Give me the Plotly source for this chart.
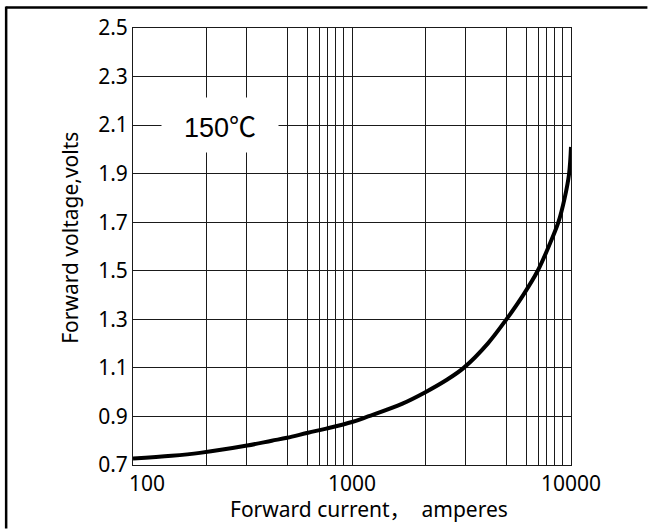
import plotly.graph_objects as go

# Curve
current = [100, 150, 202, 332, 430, 505, 630, 763, 1000, 1184, 1700, 2163, 2700,
           3236, 4166, 5070, 6048, 7047, 7910, 8759, 9359, 9802, 10000]
voltage = [0.727, 0.738, 0.750, 0.780, 0.800, 0.812, 0.833, 0.850, 0.877, 0.900,
           0.953, 1.000, 1.050, 1.100, 1.200, 1.300, 1.400, 1.500, 1.600, 1.700,
           1.800, 1.900, 2.010]

# Vertical grid lines as drawn in the picture (decade lines + in-between lines)
x_grid = [100, 216, 330, 507, 625, 707, 772, 843, 919,
          1000, 2160, 3300, 5070, 6250, 7070, 7720, 8430, 9190, 10000]
x_labels = {1000: "1000", 10000: "10000"}
first_x_label = "100"   # drawn as annotation, nudged right as in the picture
y_ticks = [0.7, 0.9, 1.1, 1.3, 1.5, 1.7, 1.9, 2.1, 2.3, 2.5]
y_labels = ["0.7", "0.9", "1.1", "1.3", "1.5", "1.7", "1.9", "2.1", "2.3", "2.5"]

W, H = 648, 529
L, R, T, B = 133, 76.5, 28, 63.5
pw, ph = W - L - R, H - T - B

def px(x):
    return (x - L) / pw

def py(y):
    return 1 - (y - T) / ph

fig = go.Figure()
fig.add_trace(go.Scatter(
    x=current, y=voltage, mode="lines",
    line=dict(color="black", width=4, shape="spline", smoothing=1.0),
    showlegend=False, hoverinfo="skip"))

font = "Noto Sans, Open Sans, Noto Sans CJK SC, DejaVu Sans, sans-serif"
grid_col = "#1a1a1a"

fig.update_layout(
    width=W, height=H,
    margin=dict(l=L, r=R, t=T, b=B, pad=0),
    paper_bgcolor="white", plot_bgcolor="white",
    font=dict(family=font, size=21, color="black"),
    xaxis=dict(
        type="log", range=[2, 4],
        tickmode="array", tickvals=x_grid,
        ticktext=[x_labels.get(v, "") for v in x_grid],
        showgrid=True, gridcolor=grid_col, gridwidth=1,
        showline=True, linecolor=grid_col, linewidth=1, mirror=True,
        ticks="", zeroline=False,
        tickfont=dict(size=21),
    ),
    yaxis=dict(
        range=[0.7, 2.5],
        tickmode="array", tickvals=y_ticks, ticktext=y_labels,
        showgrid=True, gridcolor=grid_col, gridwidth=1,
        showline=True, linecolor=grid_col, linewidth=1, mirror=True,
        ticks="", zeroline=False,
        tickfont=dict(size=21),
    ),
    annotations=[
        dict(text=first_x_label, xref="paper", yref="paper",
             x=px(147), y=py(483.5), showarrow=False,
             xanchor="center", yanchor="middle", font=dict(size=21)),
        dict(text="150<span style='font-family:Noto Sans CJK SC'>℃</span>",
             xref="paper", yref="paper", x=px(220), y=py(125),
             showarrow=False, bgcolor="white", width=114, height=52,
             font=dict(family="Liberation Sans Narrow, Liberation Sans, Noto Sans CJK SC, sans-serif", size=27),
             xanchor="center", yanchor="middle"),
        dict(text="Forward current，  amperes", xref="paper", yref="paper",
             x=px(369), y=py(510), showarrow=False,
             xanchor="center", yanchor="middle", font=dict(size=21)),
        dict(text="Forward voltage,volts", xref="paper", yref="paper",
             x=px(70), y=py(238), showarrow=False, textangle=-90,
             xanchor="center", yanchor="middle", font=dict(size=21)),
    ],
    shapes=[
        dict(type="line", xref="paper", yref="paper",
             x0=px(6), x1=px(648), y0=py(7.5), y1=py(7.5),
             line=dict(color="black", width=2.5)),
        dict(type="line", xref="paper", yref="paper",
             x0=px(6), x1=px(6), y0=py(6.5), y1=py(529),
             line=dict(color="black", width=2.5)),
    ],
)

fig.write_html("out.html", config={"displayModeBar": False},
               post_script="document.body.style.margin='0';")
